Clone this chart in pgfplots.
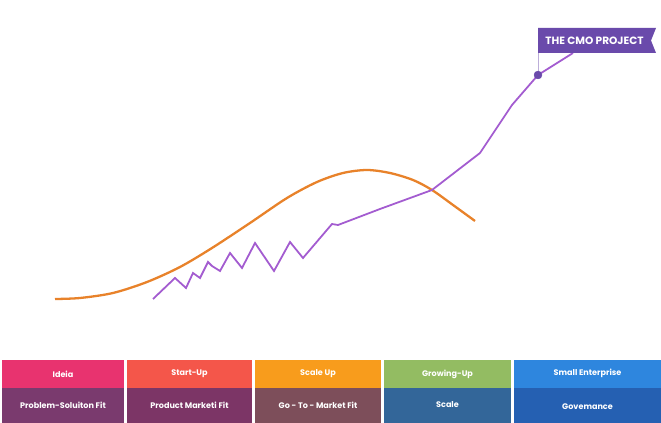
\documentclass[border=0pt]{standalone}
\usepackage{pgfplots}
\pgfplotsset{compat=1.18}
\usepackage{fontspec}
\setmainfont{Poppins}
\definecolor{corange}{HTML}{E8822A}
\definecolor{cpurple}{HTML}{A35CD0}
\definecolor{flag}{HTML}{6A4AAB}
\definecolor{t1}{HTML}{E8336F}
\definecolor{t2}{HTML}{F4564A}
\definecolor{t3}{HTML}{F89C1C}
\definecolor{t4}{HTML}{93BC62}
\definecolor{t5}{HTML}{2E86DE}
\definecolor{b1}{HTML}{7A3A6E}
\definecolor{b2}{HTML}{7C3566}
\definecolor{b3}{HTML}{7D4E5A}
\definecolor{b4}{HTML}{336699}
\definecolor{b5}{HTML}{2560B2}
\begin{document}
\begin{tikzpicture}
\begin{axis}[
  scale only axis, width=661bp, height=423bp,
  xmin=0, xmax=661, ymin=-423, ymax=0,
  axis lines=none, clip=false,
]
\path (axis cs:0,0) rectangle (axis cs:661,-423);
% bottom boxes
\fill[t1] (axis cs:2,-360) rectangle (axis cs:124,-388);
\fill[t2] (axis cs:127,-360) rectangle (axis cs:252,-388);
\fill[t3] (axis cs:255,-360) rectangle (axis cs:381,-388);
\fill[t4] (axis cs:384,-360) rectangle (axis cs:511,-388);
\fill[t5] (axis cs:514,-360) rectangle (axis cs:661,-388);
\fill[b1] (axis cs:2,-388) rectangle (axis cs:124,-423);
\fill[b2] (axis cs:127,-388) rectangle (axis cs:252,-423);
\fill[b3] (axis cs:255,-388) rectangle (axis cs:381,-423);
\fill[b4] (axis cs:384,-388) rectangle (axis cs:511,-423);
\fill[b5] (axis cs:514,-388) rectangle (axis cs:661,-423);
\begin{scope}[every node/.style={text=white, font=\bfseries\fontsize{8.1}{9}\selectfont}]
\node at (axis cs:63,-374) {Ideia};
\node at (axis cs:189.5,-374) {Start-Up};
\node at (axis cs:318,-374) {Scale Up};
\node at (axis cs:447.5,-374) {Growing-Up};
\node at (axis cs:587.5,-373) {Small Enterprise};
\node at (axis cs:63,-405) {Problem-Soluiton Fit};
\node at (axis cs:189.5,-405) {Product Marketi Fit};
\node at (axis cs:318,-405) {Go - To - Market Fit};
\node at (axis cs:447.5,-405) {Scale};
\node at (axis cs:587.5,-407) {Govemance};
\end{scope}
% orange curve
\addplot[corange, line width=2.3pt, smooth, tension=0.5] coordinates {
(55,-299)(80,-298)(113,-293)(147,-282)(180,-267)(212,-248)(250,-223)(287,-198)(317,-182)(343,-173)(367,-170)(390,-173)(413,-180)(432,-190)(453,-205)(475,-221)};
% purple line
\addplot[cpurple, line width=1.8pt] coordinates {
(153,-299)(175,-278)(186,-288)(193,-273)(200,-278)(208,-262)(212,-266)(220,-271)(230,-253)(242,-268)(255,-243)(274,-271)(290,-242)(303,-258)(332,-224)(338,-225)(380,-209)(432,-190)(480,-153)(512,-105)(538,-75)(573,-53)};
% flag
\draw[flag!45, line width=1pt] (axis cs:538,-75) -- (axis cs:538,-28);
\fill[flag] (axis cs:538,-28) -- (axis cs:656,-28) -- (axis cs:651,-40.5) -- (axis cs:656,-53) -- (axis cs:538,-53) -- cycle;
\node[text=white, font=\bfseries\fontsize{10.6}{12}\selectfont] at (axis cs:594.5,-41) {THE CMO PROJECT};
\addplot[only marks, mark=*, mark size=4pt, color=flag] coordinates {(538,-75)};
\end{axis}
\end{tikzpicture}
\end{document}
